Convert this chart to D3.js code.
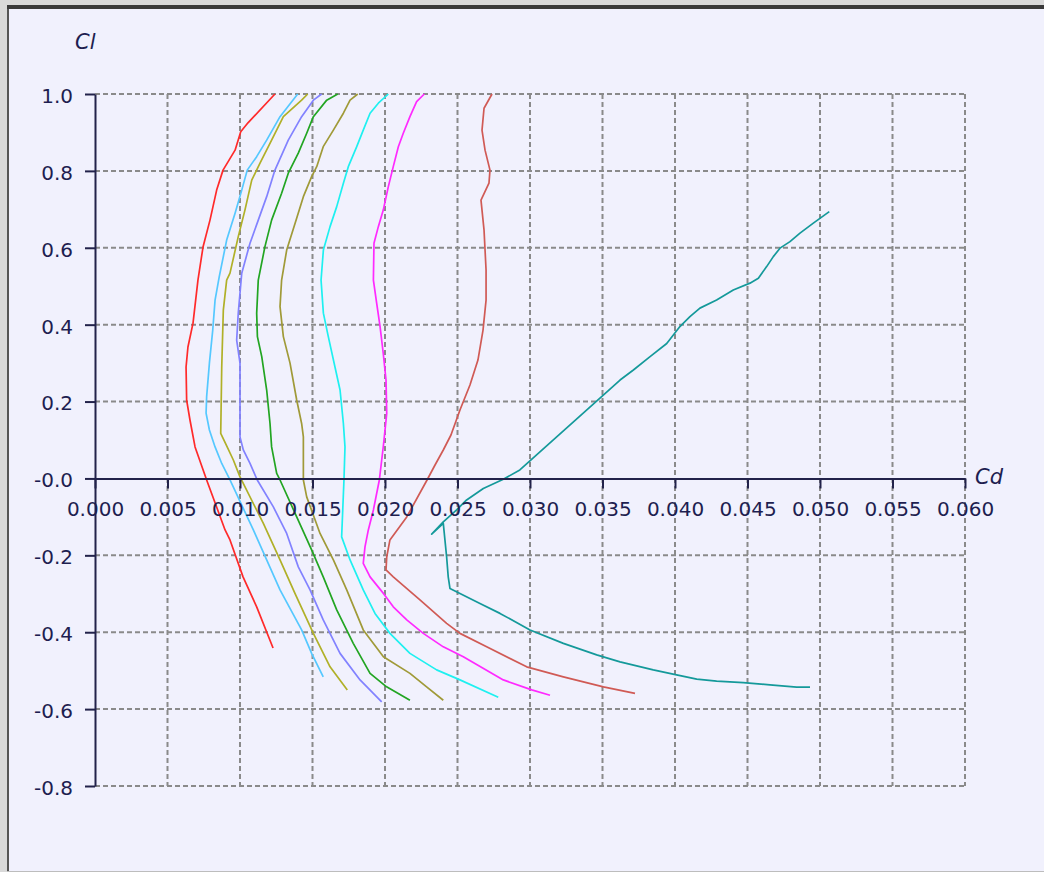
<!DOCTYPE html>
<html>
<head>
<meta charset="utf-8">
<script src="https://cdn.jsdelivr.net/npm/d3@7"></script>
<style>
html,body{margin:0;padding:0;background:#d9d9d9;}
svg{display:block;}
text{font-family:"DejaVu Sans",Verdana,sans-serif;}
</style>
</head>
<body>
<svg id="chart" width="1044" height="872"></svg>
<script>
// ---- data ----
const xTicks = [0.000,0.005,0.010,0.015,0.020,0.025,0.030,0.035,0.040,0.045,0.050,0.055,0.060];
const xTickLabels = ["0.000","0.005","0.010","0.015","0.020","0.025","0.030","0.035","0.040","0.045","0.050","0.055","0.060"];
const yTicks = [1.0,0.8,0.6,0.4,0.2,0.0,-0.2,-0.4,-0.6,-0.8];
const yTickLabels = ["1.0","0.8","0.6","0.4","0.2","-0.0","-0.2","-0.4","-0.6","-0.8"];
const xLabel = "Cd";
const yLabel = "Cl";

const seriesNames = ["s1","s2","s3","s4","s5","s6","s7","s8","s9","s10"];
const seriesColors = ["#ff2a2a","#55c8ff","#b0b028","#8282ff","#22a522","#a09a38","#1ef0f0","#ff2aff","#d05a55","#14999a"];

// each series: [Cd, Cl] pairs
const s1 = [[0.01241,1.0],[0.01055,0.925],[0.01005,0.902],[0.00966,0.854],[0.00883,0.802],[0.00839,0.75],[0.00793,0.672],[0.00745,0.602],[0.00710,0.516],[0.00676,0.404],[0.00641,0.342],[0.00628,0.29],[0.00632,0.204],[0.00655,0.152],[0.00690,0.082],[0.00770,-0.004],[0.00897,-0.134],[0.00931,-0.16],[0.01021,-0.256],[0.01115,-0.334],[0.01228,-0.441]];
const s2 = [[0.01398,1.0],[0.01276,0.941],[0.01184,0.880],[0.01115,0.837],[0.0105,0.802],[0.01012,0.75],[0.00966,0.69],[0.00908,0.62],[0.00857,0.525],[0.00828,0.464],[0.00812,0.386],[0.00789,0.30],[0.0077,0.213],[0.00766,0.17],[0.00789,0.126],[0.00828,0.082],[0.00874,0.039],[0.00931,-0.004],[0.01092,-0.134],[0.01276,-0.29],[0.01425,-0.394],[0.01494,-0.455],[0.01574,-0.516]];
const s3 = [[0.01467,1.0],[0.01425,0.984],[0.01299,0.941],[0.01218,0.88],[0.01138,0.82],[0.01081,0.776],[0.01034,0.698],[0.00988,0.629],[0.00931,0.534],[0.00908,0.516],[0.00885,0.438],[0.00874,0.29],[0.00867,0.117],[0.009,0.091],[0.00954,0.048],[0.01,0.004],[0.01161,-0.117],[0.01276,-0.212],[0.01379,-0.299],[0.01506,-0.403],[0.01621,-0.49],[0.0174,-0.55]];
const s4 = [[0.01563,1.0],[0.01506,0.984],[0.01425,0.941],[0.01333,0.88],[0.01241,0.802],[0.01184,0.733],[0.01126,0.672],[0.01069,0.612],[0.01012,0.534],[0.00988,0.43],[0.00977,0.36],[0.01,0.30],[0.01,0.108],[0.01023,0.074],[0.01069,0.039],[0.01119,-0.004],[0.0123,-0.074],[0.01322,-0.143],[0.01402,-0.23],[0.01483,-0.29],[0.01574,-0.368],[0.0169,-0.455],[0.01828,-0.524],[0.01977,-0.581]];
const s5 = [[0.01674,1.0],[0.01598,0.984],[0.01506,0.941],[0.0146,0.898],[0.01402,0.846],[0.01333,0.794],[0.01287,0.742],[0.01218,0.672],[0.01172,0.603],[0.01126,0.516],[0.01115,0.43],[0.0112,0.369],[0.0115,0.317],[0.01184,0.23],[0.01207,0.143],[0.01218,0.082],[0.01253,0.013],[0.01276,-0.004],[0.01391,-0.1],[0.01494,-0.186],[0.01574,-0.256],[0.01667,-0.342],[0.01781,-0.429],[0.01897,-0.507],[0.02011,-0.542],[0.02172,-0.577]];
const s6 = [[0.01812,1.0],[0.01759,0.984],[0.01713,0.95],[0.01644,0.906],[0.01574,0.863],[0.01529,0.811],[0.01494,0.785],[0.01437,0.733],[0.0138,0.664],[0.01322,0.594],[0.01287,0.516],[0.01276,0.447],[0.01299,0.369],[0.01345,0.30],[0.01391,0.204],[0.01425,0.143],[0.01437,0.108],[0.01437,-0.004],[0.0146,-0.048],[0.01552,-0.143],[0.01644,-0.212],[0.01736,-0.29],[0.0185,-0.394],[0.01989,-0.464],[0.02172,-0.507],[0.02287,-0.542],[0.02402,-0.577]];
const s7 = [[0.02023,1.0],[0.01954,0.976],[0.01897,0.95],[0.0185,0.906],[0.01805,0.863],[0.01747,0.811],[0.01713,0.768],[0.01667,0.707],[0.01621,0.655],[0.01575,0.594],[0.01559,0.516],[0.01575,0.43],[0.01609,0.369],[0.01655,0.29],[0.0169,0.23],[0.01713,0.143],[0.01724,0.082],[0.01717,-0.004],[0.01701,-0.152],[0.01759,-0.212],[0.0185,-0.29],[0.01931,-0.351],[0.02034,-0.403],[0.02172,-0.455],[0.02356,-0.498],[0.02517,-0.524],[0.02781,-0.569]];
const s8 = [[0.02271,1.0],[0.02218,0.98],[0.02172,0.941],[0.02126,0.898],[0.02092,0.863],[0.02057,0.811],[0.02023,0.759],[0.01988,0.698],[0.01954,0.655],[0.01924,0.612],[0.0192,0.516],[0.01943,0.455],[0.01966,0.395],[0.01988,0.325],[0.02007,0.256],[0.02012,0.169],[0.01988,0.082],[0.01961,-0.004],[0.0192,-0.082],[0.01885,-0.134],[0.01862,-0.178],[0.0185,-0.221],[0.01897,-0.256],[0.01989,-0.299],[0.02057,-0.334],[0.0215,-0.368],[0.02264,-0.403],[0.02402,-0.438],[0.0254,-0.464],[0.02816,-0.524],[0.03012,-0.55],[0.03138,-0.564]];
const s9 = [[0.02738,1.0],[0.02683,0.963],[0.02669,0.906],[0.0269,0.854],[0.02724,0.802],[0.02717,0.768],[0.02662,0.724],[0.02683,0.646],[0.02697,0.542],[0.02697,0.464],[0.02676,0.386],[0.02641,0.308],[0.02586,0.243],[0.02517,0.178],[0.02455,0.113],[0.02402,0.074],[0.02345,0.035],[0.0229,-0.004],[0.0215,-0.1],[0.02034,-0.16],[0.02012,-0.204],[0.02007,-0.238],[0.02057,-0.256],[0.02241,-0.316],[0.02425,-0.377],[0.02517,-0.403],[0.02701,-0.438],[0.02977,-0.49],[0.0323,-0.516],[0.03506,-0.542],[0.03724,-0.559]];
const s10 = [[0.05064,0.694],[0.04954,0.664],[0.04862,0.638],[0.04793,0.616],[0.04724,0.599],[0.04678,0.577],[0.04632,0.551],[0.04575,0.521],[0.04517,0.508],[0.04402,0.49],[0.04287,0.464],[0.04172,0.443],[0.04103,0.421],[0.04034,0.395],[0.03943,0.351],[0.03828,0.317],[0.03713,0.282],[0.03621,0.256],[0.0293,0.022],[0.02816,-0.002],[0.02678,-0.026],[0.02563,-0.056],[0.02494,-0.082],[0.02402,-0.113],[0.02322,-0.145],[0.02402,-0.117],[0.02425,-0.204],[0.02436,-0.256],[0.02448,-0.286],[0.02517,-0.299],[0.02655,-0.325],[0.02793,-0.351],[0.03,-0.394],[0.0323,-0.429],[0.0346,-0.459],[0.03621,-0.477],[0.0385,-0.498],[0.04011,-0.511],[0.0415,-0.522],[0.04287,-0.527],[0.04471,-0.531],[0.04655,-0.537],[0.04839,-0.543],[0.04931,-0.543]];
const seriesData = [s1,s2,s3,s4,s5,s6,s7,s8,s9,s10];

// ---- drawing ----
const svg = d3.select("#chart");
const W = 1044, H = 872;

// window frame
svg.append("rect").attr("x",0).attr("y",0).attr("width",W).attr("height",H).attr("fill","#d9d9d9");
svg.append("rect").attr("x",7).attr("y",5).attr("width",W-7).attr("height",H-6).attr("fill","#555");
svg.append("rect").attr("x",7).attr("y",5).attr("width",W-7).attr("height",4).attr("fill","#3a3a3a");
svg.append("rect").attr("x",9).attr("y",9).attr("width",W-9).attr("height",H-10).attr("fill","#f1f1fd");
svg.append("rect").attr("x",7).attr("y",H-1).attr("width",W-7).attr("height",1).attr("fill","#bdbdbd");

const x = d3.scaleLinear().domain([0,0.06]).range([95,965]);
const y = d3.scaleLinear().domain([-0.8,1.0]).range([786,94]);

const axisColor = "#22224a";
const gridColor = "#8a8a8a";

// grid
const grid = svg.append("g");
grid.selectAll("line.v").data(xTicks.filter(d=>d>0)).join("line")
  .attr("x1",d=>x(d)).attr("x2",d=>x(d)).attr("y1",y(1.0)).attr("y2",y(-0.8))
  .attr("stroke",gridColor).attr("stroke-width",2).attr("stroke-dasharray","5,3");
grid.selectAll("line.h").data(yTicks.filter(d=>d!==0)).join("line")
  .attr("x1",x(0)).attr("x2",x(0.06)).attr("y1",d=>y(d)).attr("y2",d=>y(d))
  .attr("stroke",gridColor).attr("stroke-width",2).attr("stroke-dasharray","5,3");

// curves
const line = d3.line().x(d=>x(d[0])).y(d=>y(d[1]));
svg.append("g").selectAll("path").data(seriesData).join("path")
  .attr("d",line).attr("fill","none")
  .attr("stroke",(d,i)=>seriesColors[i]).attr("stroke-width",1.7)
  .attr("stroke-linejoin","round");

// y axis
const yAxis = d3.axisLeft(y).tickValues(yTicks).tickFormat((d,i)=>yTickLabels[i]).tickSize(10).tickPadding(12).tickSizeOuter(0);
const gy = svg.append("g").attr("transform",`translate(${x(0)},0)`).call(yAxis);
gy.select(".domain").attr("stroke",axisColor).attr("stroke-width",2);
gy.selectAll(".tick line").attr("stroke",axisColor).attr("stroke-width",2);
gy.selectAll(".tick text").attr("fill","#1e1e50").attr("font-size","20px").attr("font-family","DejaVu Sans").attr("dy","0.42em");

// x axis
const xAxis = d3.axisBottom(x).tickValues(xTicks).tickFormat((d,i)=>xTickLabels[i]).tickSize(10).tickPadding(13).tickSizeOuter(0);
const gx = svg.append("g").attr("transform",`translate(0,${y(0)})`).call(xAxis);
gx.select(".domain").attr("stroke",axisColor).attr("stroke-width",2);
gx.selectAll(".tick line").attr("stroke",axisColor).attr("stroke-width",2);
gx.selectAll(".tick text").attr("fill","#1e1e50").attr("font-size","20px").attr("font-family","DejaVu Sans");

// axis titles
svg.append("text").attr("x",75).attr("y",49).attr("fill","#1e1e50")
  .attr("font-size","21px").attr("font-style","italic").text(yLabel);
svg.append("text").attr("x",975).attr("y",484).attr("fill","#1e1e50")
  .attr("font-size","21px").attr("font-style","italic").text(xLabel);
</script>
</body>
</html>
